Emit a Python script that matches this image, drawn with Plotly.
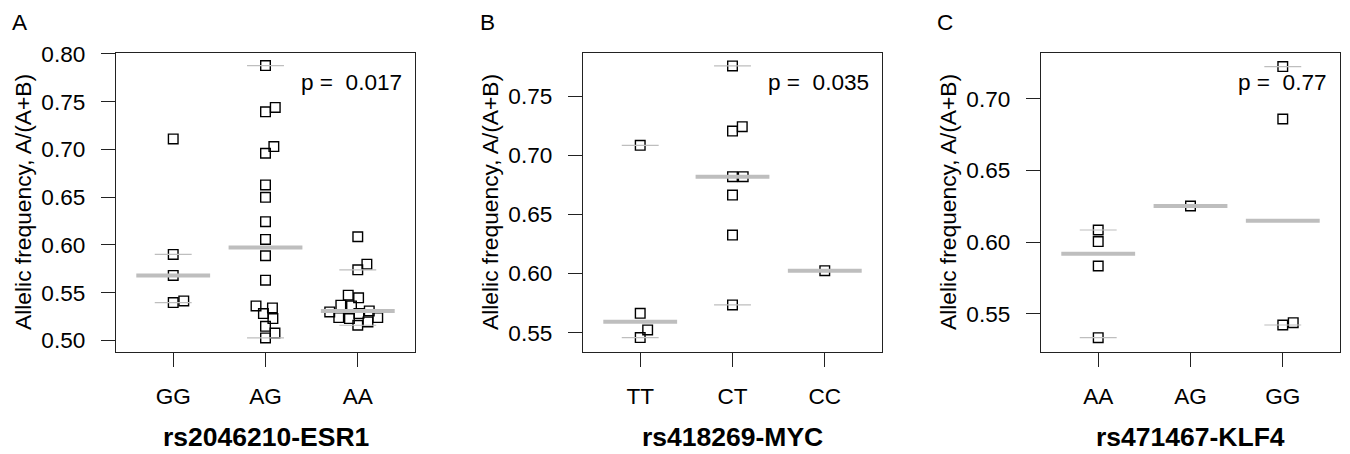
import numpy as np
import plotly.graph_objects as go

# ---------------- data ----------------
a_cats = ["GG", "AG", "AA"]
a_GG = [0.711, 0.590, 0.568, 0.5396, 0.5413]
a_AG = [0.7878, 0.744, 0.7394, 0.703, 0.696, 0.6628, 0.6498, 0.6243, 0.6057,
        0.5886, 0.563, 0.5361, 0.534, 0.528, 0.5228, 0.5147, 0.5077, 0.5025]
a_AA = [0.6085, 0.5798, 0.5739, 0.5473, 0.5445, 0.5368, 0.5361, 0.5308, 0.5298,
        0.528, 0.5238, 0.5238, 0.5228, 0.5193, 0.5158]
a_title = "rs2046210-ESR1"
a_p = "0.017"
a_yticks = [0.50, 0.55, 0.60, 0.65, 0.70, 0.75, 0.80]
a_yrange = [0.4881, 0.8013]

b_cats = ["TT", "CT", "CC"]
b_TT = [0.7083, 0.5663, 0.5523, 0.5458]
b_CT = [0.7754, 0.7241, 0.7204, 0.6818, 0.6818, 0.6663, 0.6325, 0.5734]
b_CC = [0.6024]
b_title = "rs418269-MYC"
b_p = "0.035"
b_yticks = [0.55, 0.60, 0.65, 0.70, 0.75]
b_yrange = [0.5339, 0.7866]

c_cats = ["AA", "AG", "GG"]
c_AA = [0.6085, 0.6004, 0.5834, 0.5335]
c_AG = [0.6252]
c_GG = [0.7223, 0.6858, 0.5423, 0.5439]
c_title = "rs471467-KLF4"
c_p = "0.77"
c_yticks = [0.55, 0.60, 0.65, 0.70]
c_yrange = [0.5237, 0.7320]

ytitle = "Allelic frequency, A/(A+B)"
xrange_ = [0.38, 3.62]

# ---------------- helpers ----------------
W, H = 1350, 454
BOX_TOP, BOX_BOT, BOX_W = 52.7, 351.7, 299.0
box_lefts = [116.0, 583.0, 1041.0]
FONT = "Liberation Sans, Arial, Helvetica, sans-serif"
GRAY = "#BEBEBE"
AXC = "#222222"


def fivenum(v):
    x = np.sort(np.asarray(v, float))
    n = len(x)
    n4 = np.floor((n + 3) / 2) / 2
    d = np.array([1, n4, (n + 1) / 2, n + 1 - n4, n]) - 1
    return 0.5 * (x[np.floor(d).astype(int)] + x[np.ceil(d).astype(int)])


def box_stats(v):
    x = np.sort(np.asarray(v, float))
    f = fivenum(x)
    iqr = f[3] - f[1]
    lo_lim, hi_lim = f[1] - 1.5 * iqr, f[3] + 1.5 * iqr
    inside = x[(x >= lo_lim) & (x <= hi_lim)]
    return inside.min(), f[2], inside.max()


def swarm(values, xscale, yscale, d=10.7):
    v = np.asarray(values, float)
    order = np.argsort(v, kind="stable")
    ypx = v * yscale
    xs = np.zeros(len(v))
    placed = []
    for i in order:
        near = [j for j in placed if abs(ypx[i] - ypx[j]) < d]
        offs = {j: np.sqrt(d * d - (ypx[i] - ypx[j]) ** 2) for j in near}
        cands = [0.0] + [xs[j] + offs[j] for j in near] + [xs[j] - offs[j] for j in near]
        best = None
        for c in cands:
            ok = all(abs(c - xs[j]) >= offs[j] - 1e-6 for j in near)
            if ok and (best is None or abs(c) < abs(best) - 1e-9):
                best = c
        xs[i] = best
        placed.append(i)
    return xs / xscale


panels = [
    (a_cats, [a_GG, a_AG, a_AA], a_title, a_p, a_yticks, a_yrange, "A"),
    (b_cats, [b_TT, b_CT, b_CC], b_title, b_p, b_yticks, b_yrange, "B"),
    (c_cats, [c_AA, c_AG, c_GG], c_title, c_p, c_yticks, c_yrange, "C"),
]

fig = go.Figure()
annotations = []
layout_axes = {}

for k, (cats, groups, title, pval, yticks, yrange, letter) in enumerate(panels):
    sx = "" if k == 0 else str(k + 1)
    xa, ya = "x" + sx, "y" + sx
    left = box_lefts[k]
    right = left + BOX_W
    xscale = BOX_W / (xrange_[1] - xrange_[0])
    yscale = (BOX_BOT - BOX_TOP) / (yrange[1] - yrange[0])

    px_, py_ = [], []
    med_x, med_y, wh_x, wh_y = [], [], [], []
    for gi, vals in enumerate(groups):
        pos = gi + 1
        offs = swarm(vals, xscale, yscale)
        px_ += list(pos + offs)
        py_ += list(vals)
        lo, med, hi = box_stats(vals)
        med_x += [pos - 0.4, pos + 0.4, None]
        med_y += [med, med, None]
        for w in (lo, hi):
            wh_x += [pos - 0.2, pos + 0.2, None]
            wh_y += [w, w, None]

    fig.add_trace(go.Scatter(
        x=px_, y=py_, mode="markers", xaxis=xa, yaxis=ya, showlegend=False,
        marker=dict(symbol="square-open", size=9.6, color="black",
                    line=dict(color="black", width=1.4)),
        hoverinfo="y"))
    fig.add_trace(go.Scatter(
        x=wh_x, y=wh_y, mode="lines", xaxis=xa, yaxis=ya, showlegend=False,
        line=dict(color=GRAY, width=1.2), hoverinfo="skip"))
    fig.add_trace(go.Scatter(
        x=med_x, y=med_y, mode="lines", xaxis=xa, yaxis=ya, showlegend=False,
        line=dict(color=GRAY, width=4), hoverinfo="skip"))

    common = dict(showline=True, mirror=True, linecolor=AXC, linewidth=1.3,
                  ticks="outside", ticklen=14, tickwidth=1.3, tickcolor=AXC,
                  showgrid=False, zeroline=False, automargin=False,
                  tickfont=dict(family=FONT, size=22.6, color="black"))
    layout_axes["xaxis" + sx] = dict(
        common, domain=[left / W, right / W], range=xrange_,
        tickvals=[1, 2, 3], ticktext=cats, anchor=ya, ticklabelstandoff=10)
    layout_axes["yaxis" + sx] = dict(
        common, domain=[1 - BOX_BOT / H, 1 - BOX_TOP / H], range=yrange,
        tickvals=yticks, ticktext=["%.2f" % t for t in yticks], anchor=xa,
        ticklabelstandoff=11)

    annotations.append(dict(
        x=(right - 11) / W, y=1 - 82.5 / H, xref="paper", yref="paper",
        text="p =\u00a0 " + pval, showarrow=False, xanchor="right", yanchor="middle",
        font=dict(family=FONT, size=22.6, color="black")))
    annotations.append(dict(
        x=(left - 96) / W, y=1 - 22 / H, xref="paper", yref="paper",
        text=letter, showarrow=False, xanchor="center", yanchor="middle",
        font=dict(family=FONT, size=22.6, color="black")))
    annotations.append(dict(
        x=(left - 93) / W, y=1 - 202 / H, xref="paper", yref="paper",
        text=ytitle, showarrow=False, textangle=-90, xanchor="center", yanchor="middle",
        font=dict(family=FONT, size=22.8, color="black")))
    annotations.append(dict(
        x=(left + BOX_W / 2) / W, y=1 - 437 / H, xref="paper", yref="paper",
        text="<b>" + title + "</b>", showarrow=False, xanchor="center", yanchor="middle",
        font=dict(family=FONT, size=26.5, color="black")))

fig.update_layout(
    width=W, height=H, autosize=False,
    margin=dict(l=0, r=0, t=0, b=0, pad=0, autoexpand=False),
    paper_bgcolor="white", plot_bgcolor="white",
    annotations=annotations, **layout_axes)

fig.write_html(
    "out.html",
    config={"displayModeBar": False, "responsive": False},
    post_script="document.body.style.margin='0';document.body.style.overflow='hidden';")
